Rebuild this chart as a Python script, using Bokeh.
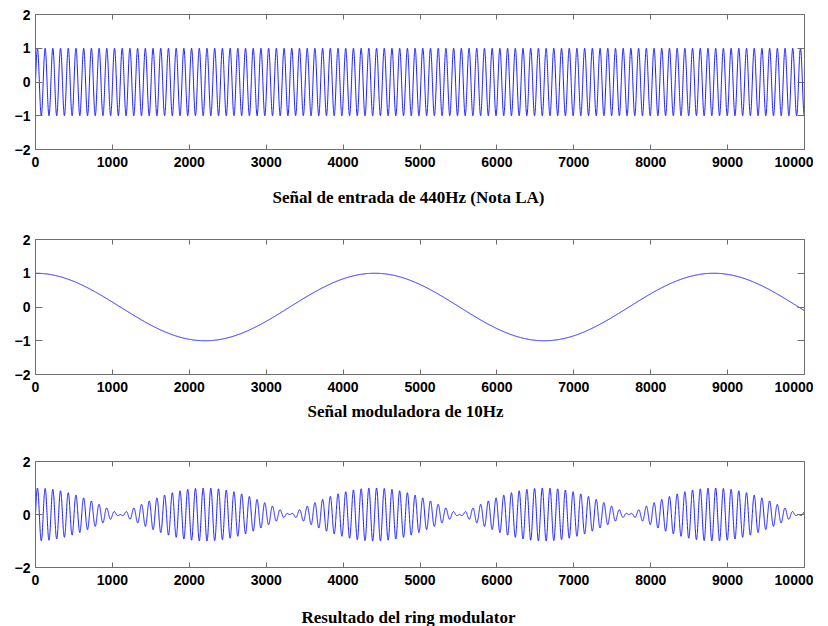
import numpy as np
from bokeh.plotting import figure
from bokeh.layouts import column
from bokeh.models import LinearAxis, FixedTicker, Title, Range1d, CustomLabelingPolicy
from bokeh.embed import file_html
from bokeh.resources import INLINE

# ---- data ----
sample_rate = 44100          # samples per second
carrier_hz = 440             # "Señal de entrada de 440Hz (Nota LA)"
modulator_hz = 10            # "Señal moduladora de 10Hz"
last_sample = 10000          # x axis runs 0 .. 10000 samples
x_ticks = [0, 1000, 2000, 3000, 4000, 5000, 6000, 7000, 8000, 9000, 10000]
y_ticks_signal = [-2, -1, 0, 1, 2]
y_ticks_result = [-2, 0, 2]
titles = [
    "Señal de entrada de 440Hz (Nota LA)",
    "Señal moduladora de 10Hz",
    "Resultado del ring modulator",
]

n = np.arange(0, last_sample + 1)
t = n / sample_rate
carrier = np.sin(2 * np.pi * carrier_hz * t)
modulator = np.cos(2 * np.pi * modulator_hz * t)
result = carrier * modulator

FRAME = "#6e6e6e"
TICK_FONT = "Liberation Sans"
TITLE_FONT = "Liberation Serif"
HIDE_ALL = "for (const i of indices) { indices.unset(i) }\nreturn indices"


def hidden_axis(ticks, standoff):
    ax = LinearAxis(ticker=FixedTicker(ticks=ticks))
    ax.major_label_policy = CustomLabelingPolicy(code=HIDE_ALL)
    ax.major_label_text_font_size = "1px"
    ax.major_label_standoff = standoff
    return ax


def panel(y, yticks, title, height, top, bottom, title_standoff, title_offset, gap=0):
    p = figure(width=813, height=height, output_backend="svg", toolbar_location=None,
               x_range=Range1d(0, last_sample), y_range=Range1d(-2, 2),
               min_border_left=35, min_border_right=7,
               min_border_top=top, min_border_bottom=bottom,
               background_fill_color="white", border_fill_color="white")
    p.grid.visible = False
    p.outline_line_color = FRAME
    p.outline_line_width = 1
    p.line(n, y, line_color="#0000ff", line_width=0.9)

    for ax in p.xaxis:
        ax.ticker = FixedTicker(ticks=x_ticks)
    for ax in p.yaxis:
        ax.ticker = FixedTicker(ticks=yticks)

    top_ax = hidden_axis(x_ticks, 0)
    right_ax = hidden_axis(yticks, 0)
    p.add_layout(top_ax, "above")
    p.add_layout(right_ax, "right")

    for ax in list(p.xaxis) + list(p.yaxis):
        ax.axis_line_color = FRAME
        ax.major_tick_line_color = FRAME
        ax.major_tick_out = 0
        ax.minor_tick_line_color = None
        ax.major_label_text_font = TICK_FONT
        ax.major_label_text_font_style = "bold"
        ax.major_label_text_font_size = "14px"
        ax.major_label_text_color = "black"
    for ax in p.xaxis:
        ax.major_tick_in = 5
        ax.major_label_standoff = 7
    for ax in p.yaxis:
        ax.major_tick_in = 7
        ax.major_label_standoff = 5
    for ax in (top_ax, right_ax):
        ax.major_label_text_font_size = "1px"

    if gap:
        spacer = hidden_axis(x_ticks, gap)
        spacer.axis_line_color = None
        spacer.major_tick_line_color = None
        spacer.minor_tick_line_color = None
        p.add_layout(spacer, "below")

    tt = Title(text=title, align="left", offset=title_offset, standoff=title_standoff,
               text_font=TITLE_FONT, text_font_style="bold", text_font_size="17px",
               text_color="black")
    p.add_layout(tt, "below")
    return p


p1 = panel(carrier, y_ticks_signal, titles[0], 225, 14, 76, 33, 237)
p2 = panel(modulator, y_ticks_signal, titles[1], 225, 14, 76, 11, 272)
p3 = panel(result, y_ticks_result, titles[2], 176, 11, 59, 0, 266, gap=8)

layout = column(p1, p2, p3, spacing=0)
open("out.html", "w").write(file_html(layout, INLINE))
